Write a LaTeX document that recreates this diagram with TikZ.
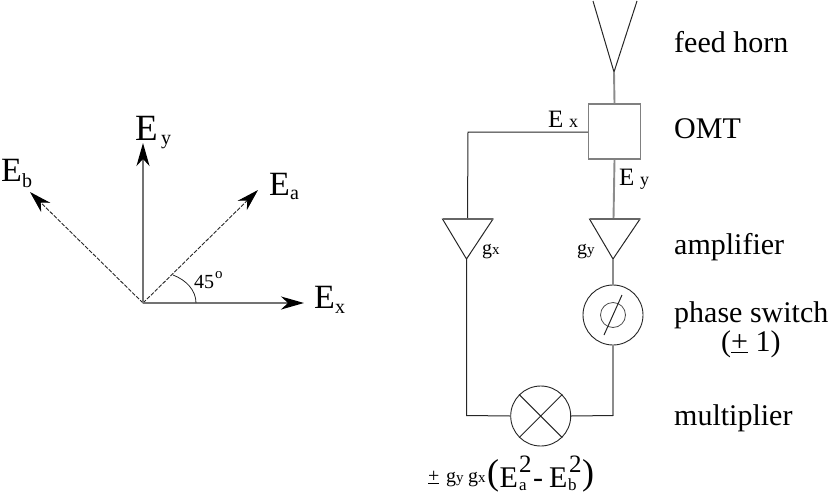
\documentclass[tikz,border=0pt]{standalone}
\usepackage{fontspec}
\setmainfont{Liberation Serif}
\usetikzlibrary{arrows.meta}
\begin{document}
\begin{tikzpicture}[x=1pt,y=-1pt,
  thinline/.style={line width=1pt,draw=black!85},
  thickline/.style={line width=1.9pt,draw=black!45},
  vec/.style={line width=1.8pt,draw=black!55,-{Stealth[length=23pt,width=13pt,inset=7pt,black]}},
  dashvec/.style={line width=0.9pt,draw=black!85,dash pattern=on 4pt off 1.5pt,-{Stealth[length=22pt,width=13pt,inset=7pt,black]}},
  txt/.style={inner sep=0pt,anchor=base west},
  lab/.style={txt,font=\fontsize{30}{32}\selectfont},
  big/.style={txt,font=\fontsize{34}{36}\selectfont},
  sm/.style={txt,font=\fontsize{20}{22}\selectfont},
  mid/.style={txt,font=\fontsize{25}{26}\selectfont},
  gg/.style={txt,font=\fontsize{20}{22}\selectfont},
  sub/.style={txt,font=\fontsize{15}{16}\selectfont}]
\useasboundingbox (0,0) rectangle (830,493);
% --- left: vectors
\coordinate (o) at (143,303);
\coordinate (ey) at (143,143);
\coordinate (ex) at (304,303);
\coordinate (ea) at (258,190);
\coordinate (eb) at (30,192);
\draw[dashvec] (o) -- (ea);
\draw[dashvec] (o) -- (eb);
\draw[vec] (o) -- (ey);
\draw[vec] (o) -- (ex);
\coordinate (a1) at (196,303);
\coordinate (a2) at (173,275);
\draw[line width=0.8pt,draw=black!85] (a1) .. controls (196,290) and (186,280) .. (a2);
\node[txt,font=\fontsize{37}{38}\selectfont] (tey) at (135,140) {E};
\node[sm] (tey2) at (161,144) {y};
\node[big] (tea) at (269,195) {E};
\node[sm] (tea2) at (290,199) {a};
\node[big] (teb) at (1,181) {E};
\node[sm] (teb2) at (22,187) {b};
\node[big] (tex) at (314,308) {E};
\node[sm] (tex2) at (335,313) {x};
\node[gg] (deg) at (194,288) {45};
\node[sub] (dego) at (215,278) {o};
% --- right: circuit
\coordinate (hl) at (593,1);
\coordinate (hr) at (637,1);
\coordinate (hv) at (614,72);
\draw[thinline] (hl) -- (hv) -- (hr);
\node[draw=black!50,line width=1.5pt,minimum width=52pt,minimum height=55pt,inner sep=0pt] (omt) at (614.5,131.5) {};
\draw[thickline] (hv) -- (omt.north);
\coordinate (c1) at (468,132);
\coordinate (tl) at (467.5,219);
\coordinate (tr) at (613.5,219);
\draw[thinline] (omt.west |- c1) -- (c1) -- (tl);
\draw[thickline] (omt.south) -- (tr);
% amplifiers
\coordinate (gxa) at (442.5,219);
\coordinate (gxb) at (493,219);
\coordinate (gxc) at (466.5,259);
\coordinate (gya) at (589.5,219);
\coordinate (gyb) at (640,219);
\coordinate (gyc) at (613,259);
\draw[thinline,line join=miter] (gxa) -- (gxb) -- (gxc) -- cycle;
\draw[thinline,line join=miter] (gya) -- (gyb) -- (gyc) -- cycle;
\draw[line width=1.5pt,draw=black!60] (gxa) -- (gxb) (gya) -- (gyb);
% phase switch
\node[circle,draw=black!85,line width=0.9pt,minimum size=60pt,inner sep=0pt] (ps) at (613,315) {};
\node[circle,draw=black!70,line width=0.8pt,minimum size=25pt,inner sep=0pt] (psi) at (613,315) {};
\coordinate (s1) at (604,335);
\coordinate (s2) at (622,295);
\draw[thinline] (s1) -- (s2);
\draw[thickline] (gyc) -- (ps.north);
% multiplier
\node[circle,draw=black!85,line width=0.9pt,minimum size=60pt,inner sep=0pt] (mul) at (540.7,416) {};
\draw[thinline] (mul.45) -- (mul.225) (mul.135) -- (mul.315);
\coordinate (bl) at (466.5,415.5);
\coordinate (br) at (613,415.5);
\draw[thinline] (gxc) -- (bl) -- (mul.west);
\draw[thickline] (ps.south) -- (br);
\draw[thinline] (br) -- (mul.east);
% labels
\node[lab] (l1) at (674,52) {feed horn};
\node[lab] (l2) at (674,138) {OMT};
\node[lab] (l3) at (674,254) {amplifier};
\node[lab] (l4) at (674,322) {phase switch};
\node[lab] (l5) at (721,351) {(\underline{+} 1)};
\node[lab] (l6) at (674,425) {multiplier};
\node[mid] (tx) at (548,127) {E};
\node[txt,font=\fontsize{18}{20}\selectfont] (tx2) at (569,127) {x};
\node[mid] (ty) at (619,185) {E};
\node[txt,font=\fontsize{18}{20}\selectfont] (ty2) at (640,185) {y};
\node[gg] (gx1) at (482,254) {g};
\node[sub] (gx2) at (492,254) {x};
\node[gg] (gy1) at (577,254) {g};
\node[sub] (gy2) at (587,254) {y};
\node[gg] (p) at (428,482) {\underline{+}};
\node[gg] (p1) at (446,482) {g};
\node[sub] (p2) at (456,482) {y};
\node[gg] (p3) at (468,482) {g};
\node[sub] (p4) at (478,482) {x};
\node[txt,font=\fontsize{36}{38}\selectfont] (lp) at (487,484) {(};
\node[txt,font=\fontsize{30}{32}\selectfont] (e1) at (499.5,487) {E};
\node[txt,font=\fontsize{25}{26}\selectfont] (e1s) at (519,472) {2};
\node[txt,font=\fontsize{17}{18}\selectfont] (e1b) at (519,490.5) {a};
\node[txt,font=\fontsize{30}{32}\selectfont] (mi) at (533,487) {-};
\node[txt,font=\fontsize{30}{32}\selectfont] (e2) at (549,487) {E};
\node[txt,font=\fontsize{25}{26}\selectfont] (e2s) at (569,472) {2};
\node[txt,font=\fontsize{17}{18}\selectfont] (e2b) at (568,490.5) {b};
\node[txt,font=\fontsize{36}{38}\selectfont] (rp) at (582,484) {)};
\end{tikzpicture}
\end{document}
